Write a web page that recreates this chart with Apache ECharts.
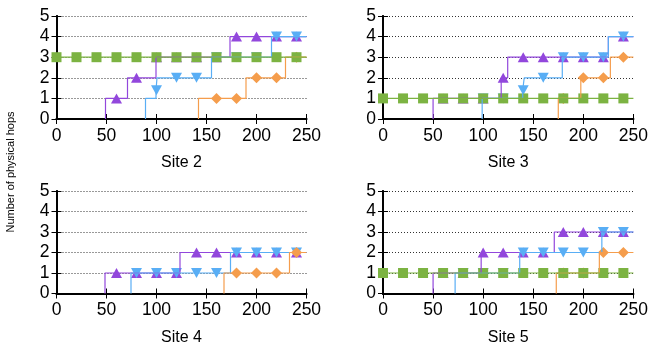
<!DOCTYPE html>
<html>
<head>
<meta charset="utf-8">
<script src="https://cdn.jsdelivr.net/npm/echarts@6/dist/echarts.min.js"></script>
<style>
  html, body { margin: 0; padding: 0; background: #fff; }
  #main { width: 651px; height: 347px; }
</style>
</head>
<body>
<div id="main"></div>
<script>
// 四个站点的子图
var sites = ['Site 2', 'Site 3', 'Site 4', 'Site 5'];
var markerX = [0, 20, 40, 60, 80, 100, 120, 140, 160, 180, 200, 220, 240];
var xMax = 250;

// step breakpoints [x, hops], value holds from x until next breakpoint
var purpleSteps = [
  [[49, 0], [49, 1], [71, 2], [99.5, 3], [173.5, 4]],
  [[50, 0], [50, 1], [118, 2], [124.5, 3], [225, 4]],
  [[48.5, 0], [48.5, 1], [123.5, 2]],
  [[50, 0], [50, 1], [98, 2], [171, 3]]
];
var blueSteps = [
  [[89, 0], [89, 1], [99.5, 1.4], [100.5, 2], [155, 3], [215, 4]],
  [[99, 0], [99, 1], [139.5, 1.4], [141, 2], [179, 3], [225, 4]],
  [[74.5, 0], [74.5, 1], [174, 2]],
  [[72, 0], [72, 1], [136.5, 2], [218.5, 3]]
];
var orangeSteps = [
  [[142, 0], [142, 1], [189.5, 2], [229, 3]],
  [[175, 0], [175, 1], [197.5, 2], [227, 3]],
  [[167.5, 0], [167.5, 1], [233, 2]],
  [[173, 0], [173, 1], [216, 2]]
];
var greenLevel = [3, 1, null, 1];

var grids = [
  { left: 56.5, top: 16, width: 250, height: 103 },
  { left: 383, top: 16, width: 250.5, height: 103 },
  { left: 56.5, top: 191, width: 250, height: 102.5 },
  { left: 383, top: 191, width: 250.5, height: 102.5 }
];

var FONT = 'Liberation Sans';

function stepAt(steps, x) {
  var v = null;
  steps.forEach(function (p) { if (p[0] <= x) v = p[1]; });
  return v;
}

function lineData(steps) {
  return steps.concat([[xMax, steps[steps.length - 1][1]]]);
}

function markData(steps) {
  var out = [];
  markerX.forEach(function (x) {
    if (x >= steps[0][0]) out.push([x, stepAt(steps, x)]);
  });
  return out;
}

var chart = echarts.init(document.getElementById('main'), null, { renderer: 'canvas' });

var xAxes = [], yAxes = [], series = [];

sites.forEach(function (name, i) {
  var border = { show: true, lineStyle: { color: '#000', width: 1.8 } };
  xAxes.push({
    gridIndex: i, type: 'value', min: 0, max: xMax, interval: 50, position: 'bottom',
    name: name, nameLocation: 'middle', nameGap: 36,
    nameTextStyle: { fontFamily: FONT, fontSize: 16, color: '#000' },
    axisLine: border,
    axisTick: { inside: true, length: 5, lineStyle: { color: '#000' } },
    axisLabel: { fontFamily: FONT, fontSize: 17.5, color: '#000', margin: 8 },
    splitLine: { show: false }
  });
  xAxes.push({
    gridIndex: i, type: 'value', min: 0, max: xMax, interval: 50, position: 'top',
    axisLine: border,
    axisTick: { inside: true, length: 5, lineStyle: { color: '#000' } },
    axisLabel: { show: false }, splitLine: { show: false }
  });
  yAxes.push({
    gridIndex: i, type: 'value', min: 0, max: 5, interval: 1, position: 'left',
    axisLine: border,
    axisTick: { inside: true, length: 5, lineStyle: { color: '#000' } },
    axisLabel: { fontFamily: FONT, fontSize: 17.5, color: '#000', margin: 7 },
    splitLine: { show: true, lineStyle: { type: [1, 2], color: '#333', width: 1 } }
  });
  yAxes.push({
    gridIndex: i, type: 'value', min: 0, max: 5, interval: 1, position: 'right',
    axisLine: border,
    axisTick: { inside: true, length: 5, lineStyle: { color: '#000' } },
    axisLabel: { show: false }, splitLine: { show: false }
  });

  var xi = 2 * i, yi = 2 * i;
  function addStep(steps, color, symbol, size, rotate) {
    series.push({
      type: 'line', xAxisIndex: xi, yAxisIndex: yi, step: 'end',
      data: lineData(steps), showSymbol: false, silent: true,
      lineStyle: { color: color, width: 1.2 }, animation: false
    });
    series.push({
      type: 'scatter', xAxisIndex: xi, yAxisIndex: yi,
      data: markData(steps), symbol: symbol, symbolSize: size,
      symbolRotate: rotate || 0, itemStyle: { color: color, opacity: 1 },
      animation: false
    });
  }
  addStep(purpleSteps[i], '#9247dc', 'triangle', [11, 10]);
  addStep(blueSteps[i], '#59aef5', 'triangle', [11, 10], 180);
  addStep(orangeSteps[i], '#f59d4c', 'diamond', [11, 11]);

  if (greenLevel[i] !== null) {
    var g = greenLevel[i];
    series.push({
      type: 'line', xAxisIndex: xi, yAxisIndex: yi,
      data: [[0, g], [xMax, g]], showSymbol: false, silent: true,
      lineStyle: { color: '#7cb342', width: 1.2 }, animation: false
    });
    series.push({
      type: 'scatter', xAxisIndex: xi, yAxisIndex: yi,
      data: markerX.map(function (x) { return [x, g]; }),
      symbol: 'rect', symbolSize: 10,
      itemStyle: { color: '#7cb342', opacity: 1 }, animation: false
    });
  }
});

var option = {
  backgroundColor: '#ffffff',
  animation: false,
  grid: grids,
  xAxis: xAxes,
  yAxis: yAxes,
  series: series,
  graphic: [{
    type: 'text', x: 11, y: 172, rotation: Math.PI / 2,
    style: {
      text: 'Number of physical hops', fontFamily: FONT, fontSize: 11,
      fill: '#000', align: 'center', verticalAlign: 'middle'
    }
  }]
};

chart.setOption(option);
</script>
</body>
</html>
